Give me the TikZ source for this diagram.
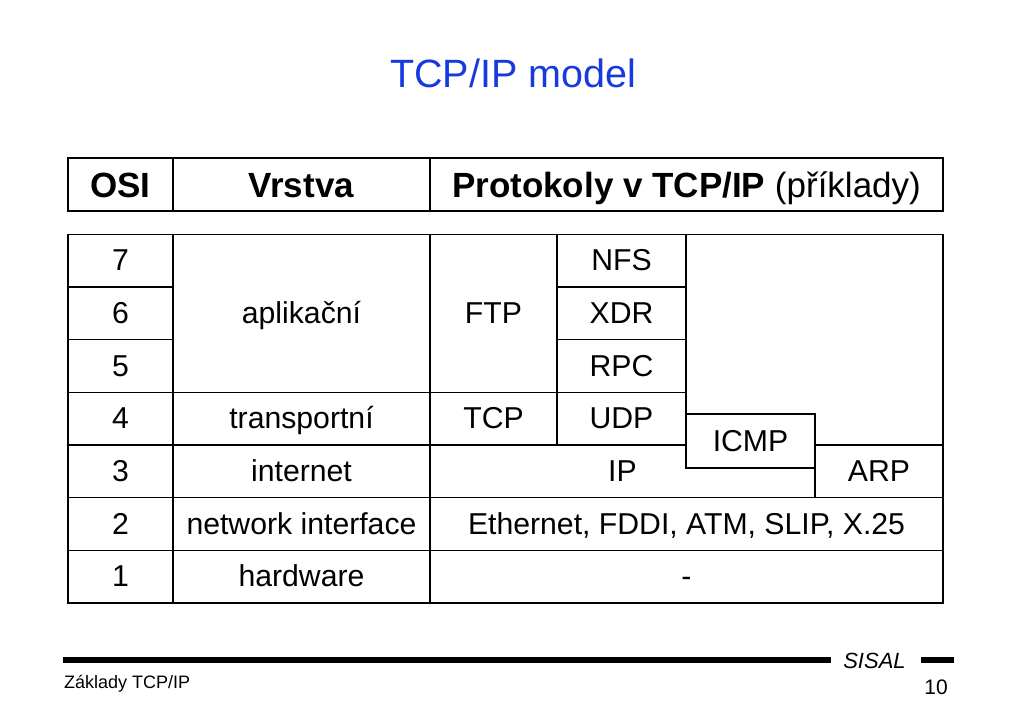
\documentclass[tikz,border=0pt]{standalone}
\usepackage{fontspec}
\setmainfont{Liberation Sans}
\definecolor{titleblue}{RGB}{22,58,220}
\tikzset{
    cell/.style={anchor=base,inner sep=0pt,font=\fontsize{30.2}{36}\selectfont},
    headcell/.style={anchor=base,inner sep=0pt,font=\fontsize{35}{42}\selectfont\bfseries},
    grid/.style={line width=1.3pt,line cap=rect}
}
\begin{document}
\begin{tikzpicture}[x=1pt,y=-1pt]
    \useasboundingbox (0,0) rectangle (1023,717);
    \node[anchor=base,inner sep=0pt,text=titleblue,font=\fontsize{39.5}{46}\selectfont] (title) at (513,88) {TCP/IP model};
    % header
    \draw[grid] (68,158) rectangle (943,211);
    \draw[grid] (173,158) -- (173,211) (430,158) -- (430,211);
    \node[headcell] (hosi) at (120.5,197) {OSI};
    \node[headcell] (hvrstva) at (301.5,197) {Vrstva};
    \node[headcell] (hproto) at (686.5,197) {Protokoly v TCP/IP \mdseries(příklady)};
    % table
    \draw[grid] (68,234.3) rectangle (943,603.1);
    \draw[grid] (173,234.3) -- (173,603.1) (430,234.3) -- (430,603.1);
    \draw[grid] (557,234.3) -- (557,445);
    \draw[grid] (686,234.3) -- (686,414);
    \draw[grid] (686,414) rectangle (815,468);
    \draw[grid] (815,497.7) -- (815,445) -- (943,445);
    \foreach \y in {286.9,339.6}
        {\draw[grid] (68,\y) -- (173,\y) (557,\y) -- (686,\y);
        }
    \draw[grid] (68,392.3) -- (686,392.3);
    \draw[grid] (68,445) -- (686,445);
    \foreach \y in {497.7,550.4}
        {\draw[grid] (68,\y) -- (943,\y);
        }
    \foreach \n [count=\i] in {7,6,5,4,3,2,1}
        {\node[cell] (osi\n) at (120.5,{234.3+(\i-0.5)*52.7+10}) {\n};
        }
    \node[cell] (aplik) at (301.5,323.2) {aplikační};
    \node[cell] (ftp) at (493.5,323.2) {FTP};
    \node[cell] (nfs) at (621.5,270.6) {NFS};
    \node[cell] (xdr) at (621.5,323.2) {XDR};
    \node[cell] (rpc) at (621.5,376) {RPC};
    \node[cell] (transp) at (301.5,428.6) {transportní};
    \node[cell] (tcp) at (493.5,428.6) {TCP};
    \node[cell] (udp) at (621.5,428.6) {UDP};
    \node[cell] (icmp) at (750.5,451.5) {ICMP};
    \node[cell] (inet) at (301.5,481.3) {internet};
    \node[cell] (ip) at (622.5,481.3) {IP};
    \node[cell] (arp) at (879,481.3) {ARP};
    \node[cell] (netif) at (301.5,534) {network interface};
    \node[cell] (ether) at (686.5,534) {Ethernet, FDDI, ATM, SLIP, X.25};
    \node[cell] (hw) at (301.5,586.7) {hardware};
    \node[cell] (none) at (686.5,586.7) {-};
    % footer
    \draw[line width=5.5pt] (63,660) -- (831,660);
    \draw[line width=5.5pt] (921,660) -- (954,660);
    \node[anchor=base,inner sep=0pt,font=\fontsize{22}{26}\selectfont\itshape] (sisal) at (874.5,668) {SISAL};
    \node[anchor=base west,inner sep=0pt,font=\fontsize{18}{22}\selectfont] (zaklady) at (64,688.3) {Základy TCP/IP};
    \node[anchor=base east,inner sep=0pt,font=\fontsize{21}{25}\selectfont] (page) at (948,694) {10};
\end{tikzpicture}
\end{document}
